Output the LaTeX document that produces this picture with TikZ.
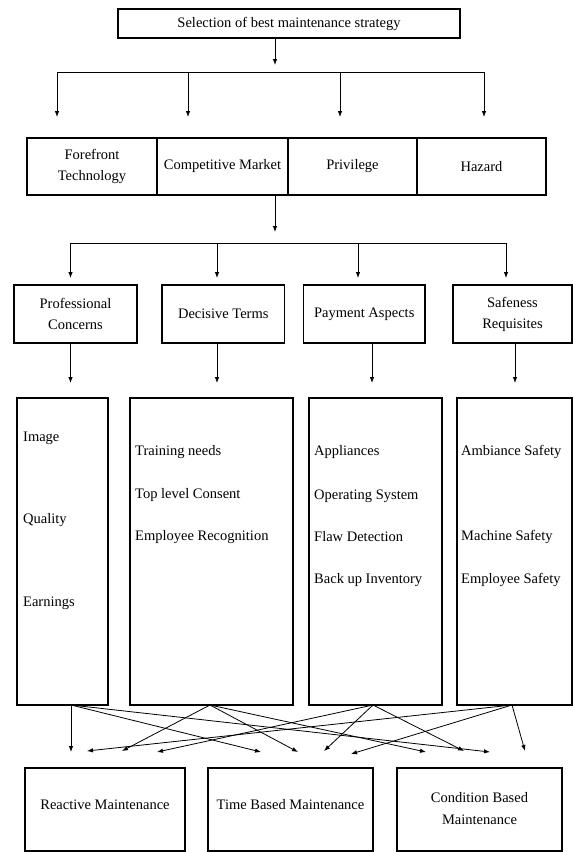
\documentclass[tikz,border=0pt]{standalone}
\usepackage{fontspec}
\setmainfont{Liberation Serif}
\usetikzlibrary{arrows.meta}
\begin{document}
\begin{tikzpicture}[x=1pt,y=-1pt,
  box/.style={draw,line width=1.1pt,inner sep=0pt,align=center,font=\fontsize{14.5}{21}\selectfont},
  lbl/.style={inner sep=0pt,anchor=west,font=\fontsize{14.5}{21}\selectfont},
  txt/.style={inner sep=0pt,align=center,font=\fontsize{14.5}{22}\selectfont},
  arr/.style={line width=0.8pt,-{Latex[length=6pt,width=4.5pt]}},
  ln/.style={line width=0.8pt}]
\useasboundingbox (0,0) rectangle (573,852);

% top
\node[box,minimum width=342pt,minimum height=29pt] (top) at (289,23.5) {Selection of best maintenance strategy};
\coordinate (a0) at (275,65);
\draw[arr] (top.south -| a0) -- (a0);
\coordinate (h1L) at (57,72);
\coordinate (h1R) at (484,72);
\draw[ln] (h1L) -- (h1R);
\coordinate (b1) at (57,117);
\coordinate (b2) at (188,117);
\coordinate (b3) at (340,117);
\coordinate (b4) at (484,117);
\foreach \t in {b1,b2,b3,b4} \draw[arr] (\t |- h1L) -- (\t);

% row 2
\node[box,minimum width=130pt,minimum height=57pt] (ff) at (92,166.5) {Forefront\\Technology};
\node[box,minimum width=131pt,minimum height=57pt] (cm) at (222.5,166.5) {Competitive Market};
\node[box,minimum width=129pt,minimum height=57pt] (pv) at (352.5,166.5) {Privilege};
\node[box,minimum width=129pt,minimum height=57pt] (hz) at (481.5,166.5) {Hazard};

\coordinate (a1) at (275,232);
\draw[arr] (cm.south -| a1) -- (a1);
\coordinate (h2L) at (70.5,243);
\coordinate (h2R) at (506,243);
\draw[ln] (h2L) -- (h2R);
\coordinate (c1) at (70.5,278);
\coordinate (c2) at (217,278);
\coordinate (c3) at (358,278);
\coordinate (c4) at (506,278);
\foreach \t in {c1,c2,c3,c4} \draw[arr] (\t |- h2L) -- (\t);

% row 3
\node[box,minimum width=123pt,minimum height=58pt] (pc) at (75.5,314) {Professional\\Concerns};
\node[box,minimum width=122.5pt,minimum height=58pt] (dt) at (223.25,314) {Decisive Terms};
\node[box,minimum width=121.5pt,minimum height=58pt] (pa) at (364.25,314) {Payment Aspects};
\node[box,minimum width=119pt,minimum height=58pt] (sr) at (512.5,314) {Safeness\\Requisites};

\coordinate (d1) at (70.5,383);
\coordinate (d2) at (217,383);
\coordinate (d3) at (372,383);
\coordinate (d4) at (515,383);
\draw[arr] (pc.south -| d1) -- (d1);
\draw[arr] (dt.south -| d2) -- (d2);
\draw[arr] (pa.south -| d3) -- (d3);
\draw[arr] (sr.south -| d4) -- (d4);

% row 4
\node[box,minimum width=91pt,minimum height=307pt] (r1) at (62.5,551.5) {};
\node[box,minimum width=163pt,minimum height=307pt] (r2) at (211.5,551.5) {};
\node[box,minimum width=133pt,minimum height=307pt] (r3) at (375.5,551.5) {};
\node[box,minimum width=115pt,minimum height=307pt] (r4) at (514.5,551.5) {};

\node[lbl] (l11) at (23,438) {Image};
\node[lbl] (l12) at (23,520) {Quality};
\node[lbl] (l13) at (23,603) {Earnings};
\node[lbl] (l21) at (135,452) {Training needs};
\node[lbl] (l22) at (135,495) {Top level Consent};
\node[lbl] (l23) at (135,537) {Employee Recognition};
\node[lbl] (l31) at (314,452) {Appliances};
\node[lbl] (l32) at (314,496) {Operating System};
\node[lbl] (l33) at (314,537) {Flaw Detection};
\node[lbl] (l34) at (314,580) {Back up Inventory};
\node[lbl] (l41) at (461,452) {Ambiance Safety};
\node[lbl] (l42) at (461,537) {Machine Safety};
\node[lbl] (l43) at (461,580) {Employee Safety};

% crossing arrows
\coordinate (s1) at (71,705);
\coordinate (s2) at (210,705);
\coordinate (s3) at (373,705);
\coordinate (s4) at (512,705);
\coordinate (e1) at (71,752);
\coordinate (e2) at (87,751);
\coordinate (e3) at (122,751);
\coordinate (e4) at (157,752);
\coordinate (e5) at (261,752);
\coordinate (e6) at (298,752);
\coordinate (e7) at (324,751);
\coordinate (e8) at (351,754);
\coordinate (e9) at (426,752);
\coordinate (e10) at (464,751);
\coordinate (e11) at (490,752);
\coordinate (e12) at (525,751);
\draw[arr] (s1) -- (e1);
\draw[arr] (s1) -- (e5);
\draw[arr] (s1) -- (e11);
\draw[arr] (s2) -- (e3);
\draw[arr] (s2) -- (e6);
\draw[arr] (s2) -- (e9);
\draw[arr] (s3) -- (e4);
\draw[arr] (s3) -- (e7);
\draw[arr] (s3) -- (e10);
\draw[arr] (s4) -- (e2);
\draw[arr] (s4) -- (e8);
\draw[arr] (s4) -- (e12);

% bottom
\node[box,minimum width=160pt,minimum height=83pt] (ra) at (105,809.5) {};
\node[box,minimum width=165pt,minimum height=83pt] (tb) at (290.5,809.5) {};
\node[box,minimum width=165pt,minimum height=83pt] (cb) at (479.5,809.5) {};
\node[txt] (rat) at (105,805) {Reactive Maintenance};
\node[txt] (tbt) at (290.5,805) {Time Based Maintenance};
\node[txt] (cbt) at (479.5,809) {Condition Based\\Maintenance};
\end{tikzpicture}
\end{document}
